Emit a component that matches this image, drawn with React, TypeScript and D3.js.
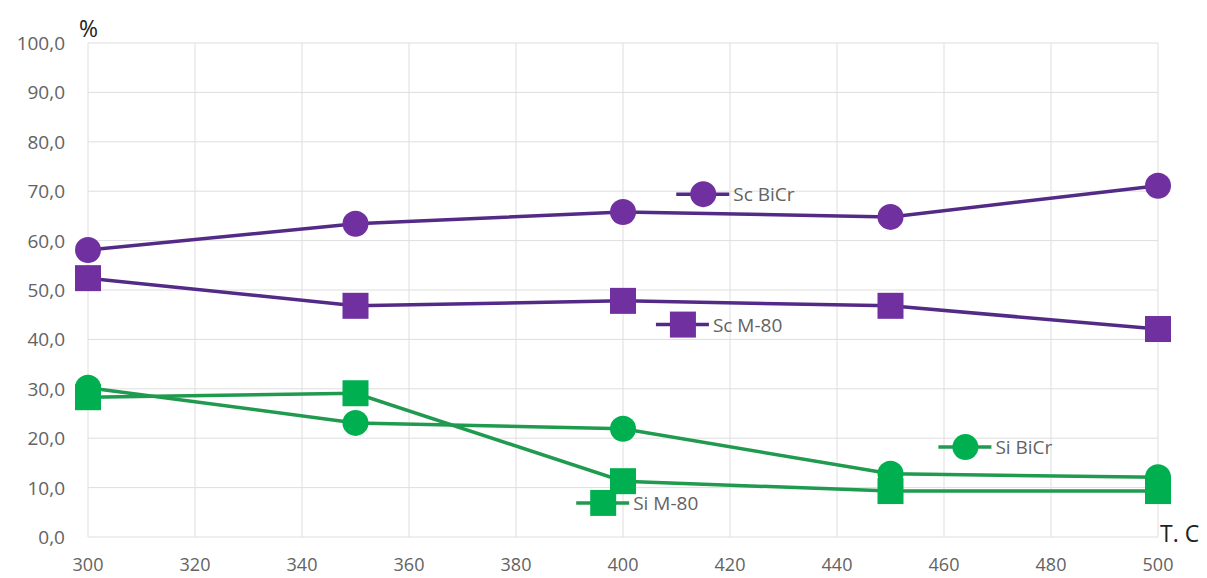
import React from "react";
import * as d3 from "d3";

const temps = [300, 350, 400, 450, 500];
const scBiCr = [58.1, 63.4, 65.8, 64.8, 71.1];
const scM80 = [52.4, 46.8, 47.8, 46.8, 42.1];
const siBiCr = [30.2, 23.1, 21.9, 12.8, 12.1];
const siM80 = [28.3, 29.1, 11.3, 9.3, 9.3];

const xTicks = [300, 320, 340, 360, 380, 400, 420, 440, 460, 480, 500];
const yTicks = [0, 10, 20, 30, 40, 50, 60, 70, 80, 90, 100];

const PURPLE = "#7030a0";
const PURPLE_LINE = "#532a86";
const GREEN = "#00b050";
const GREEN_LINE = "#1f9a4e";

type Series = {
  name: string;
  values: number[];
  shape: "circle" | "square";
  fill: string;
  stroke: string;
  // inline label anchor in data units
  lx: number;
  ly: number;
};

const series: Series[] = [
  { name: "Sc BiCr", values: scBiCr, shape: "circle", fill: PURPLE, stroke: PURPLE_LINE, lx: 415, ly: 69.4 },
  { name: "Sc M-80", values: scM80, shape: "square", fill: PURPLE, stroke: PURPLE_LINE, lx: 411.2, ly: 43 },
  { name: "Si BiCr", values: siBiCr, shape: "circle", fill: GREEN, stroke: GREEN_LINE, lx: 464, ly: 18.2 },
  { name: "Si M-80", values: siM80, shape: "square", fill: GREEN, stroke: GREEN_LINE, lx: 396.3, ly: 6.9 },
];

const W = 1207;
const H = 578;
const left = 88;
const right = 1158;
const top = 43;
const bottom = 537;

export default function App() {
  const x = d3.scaleLinear().domain([300, 500]).range([left, right]);
  const y = d3.scaleLinear().domain([0, 100]).range([bottom, top]);
  const line = d3
    .line<number>()
    .x((_, i) => x(temps[i]))
    .y((v) => y(v));
  const fmt = (v: number) => v.toFixed(1).replace(".", ",");
  const font = "'Open Sans', 'Liberation Sans', sans-serif";

  const marker = (s: Series, cx: number, cy: number, key: string) =>
    s.shape === "circle" ? (
      <circle key={key} cx={cx} cy={cy} r={13} fill={s.fill} />
    ) : (
      <rect key={key} x={cx - 13} y={cy - 13} width={26} height={26} fill={s.fill} />
    );

  return (
    <svg
      width={W}
      height={H}
      style={{ position: "absolute", left: 0, top: 0, background: "#fff" }}
      fontFamily={font}
    >
      {/* grid */}
      <g stroke="#dedede" strokeWidth={1}>
        {yTicks.map((t) => (
          <line key={"gy" + t} x1={left} x2={right} y1={y(t)} y2={y(t)} />
        ))}
        {xTicks.map((t) => (
          <line key={"gx" + t} x1={x(t)} x2={x(t)} y1={top} y2={bottom} />
        ))}
      </g>
      {/* y tick labels */}
      <g fill="#636363" fontSize={19} textAnchor="end">
        {yTicks.map((t) => (
          <text key={"ty" + t} x={65} y={y(t) + 7}>
            {fmt(t)}
          </text>
        ))}
      </g>
      {/* x tick labels */}
      <g fill="#636363" fontSize={18} textAnchor="middle">
        {xTicks.map((t) => (
          <text key={"tx" + t} x={x(t)} y={571}>
            {t}
          </text>
        ))}
      </g>
      <text x={79} y={37} fontSize={23} fill="#222">%</text>
      <text x={1160} y={542} fontSize={23} fill="#222">T. C</text>

      {/* series lines and markers */}
      {series.map((s) => (
        <g key={s.name}>
          <path d={line(s.values) ?? ""} fill="none" stroke={s.stroke} strokeWidth={3.5} />
          {s.values.map((v, i) => marker(s, x(temps[i]), y(v), s.name + i))}
        </g>
      ))}

      {/* inline series labels */}
      {series.map((s) => {
        const cx = x(s.lx);
        const cy = y(s.ly);
        return (
          <g key={"lab" + s.name}>
            <line x1={cx - 27} x2={cx + 26} y1={cy} y2={cy} stroke={s.stroke} strokeWidth={3.5} />
            {marker(s, cx, cy, "lm" + s.name)}
            <text x={cx + 30} y={cy + 7} fontSize={19} fill="#636363">
              {s.name}
            </text>
          </g>
        );
      })}
    </svg>
  );
}
